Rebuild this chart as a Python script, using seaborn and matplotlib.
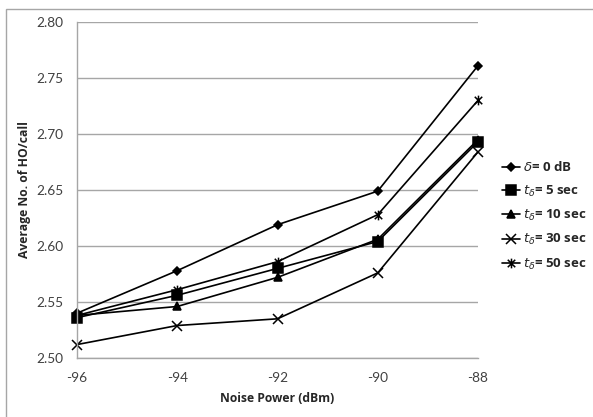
import numpy as np
import pandas as pd
import seaborn as sns
import matplotlib.pyplot as plt
from matplotlib.patches import Rectangle
from matplotlib.path import Path

noise_power = [-96, -94, -92, -90, -88]
delta_0db = [2.540, 2.578, 2.619, 2.649, 2.761]
t_5sec = [2.536, 2.556, 2.580, 2.604, 2.693]
t_10sec = [2.538, 2.546, 2.572, 2.606, 2.695]
t_30sec = [2.512, 2.529, 2.535, 2.576, 2.684]
t_50sec = [2.538, 2.561, 2.586, 2.628, 2.730]

labels = [r'$\delta$= 0 dB', r'$t_\delta$= 5 sec', r'$t_\delta$= 10 sec',
          r'$t_\delta$= 30 sec', r'$t_\delta$= 50 sec']

# excel style star: an x with a vertical bar through it
star = Path([(-1, -1), (1, 1), (-1, 1), (1, -1), (0, -1.3), (0, 1.3)],
            [Path.MOVETO, Path.LINETO, Path.MOVETO, Path.LINETO, Path.MOVETO, Path.LINETO])
markers = ['D', 's', '^', 'x', star]
sizes = [4.5, 6.5, 6, 7, 7]

sns.set_style('white')
plt.rcParams['font.family'] = ['Lato', 'DejaVu Sans']
plt.rcParams['mathtext.fontset'] = 'dejavusans'
bold_font = {'family': ['Open Sans', 'DejaVu Sans'], 'weight': 'bold'}

fig = plt.figure(figsize=(5.93, 4.17), dpi=100)
ax = fig.add_axes([77 / 593, 1 - 358 / 417, 401 / 593, 336 / 417])

series = [delta_0db, t_5sec, t_10sec, t_30sec, t_50sec]
for vals, lab, m, s in zip(series, labels, markers, sizes):
    sns.lineplot(x=noise_power, y=vals, ax=ax, color='black', marker=m,
                 markersize=s, markeredgecolor='black', markerfacecolor='black',
                 markeredgewidth=1.1, linewidth=1.2, label=lab)

ax.set_xlim(-96, -88)
ax.set_ylim(2.50, 2.80)
ax.set_xticks(noise_power)
ax.set_xticklabels([str(v) for v in noise_power])
ax.set_yticks(np.arange(2.50, 2.801, 0.05))
ax.set_yticklabels(['%.2f' % v for v in np.arange(2.50, 2.801, 0.05)])
ax.yaxis.grid(True, color='#a6a6a6', linewidth=1)
ax.xaxis.grid(False)
for side in ['top', 'right']:
    ax.spines[side].set_visible(False)
for side in ['left', 'bottom']:
    ax.spines[side].set_color('#a6a6a6')
    ax.spines[side].set_linewidth(1)
ax.tick_params(axis='both', length=0, labelsize=9.8, colors='#404040')
ax.tick_params(axis='y', pad=9.5)
ax.tick_params(axis='x', pad=10)
ax.set_axisbelow(True)
for line in ax.get_lines():
    line.set_clip_on(False)

ax.set_xlabel('Noise Power (dBm)', fontsize=8.7, labelpad=6, **bold_font)
ax.set_ylabel('Average No. of HO/call', fontsize=8.7, labelpad=4, **bold_font)

ax.get_legend().remove()
handles, _ = ax.get_legend_handles_labels()
fig.legend(handles, labels, loc='center left', bbox_to_anchor=(502 / 593, 1 - 216 / 417),
           frameon=False, borderpad=0, borderaxespad=0, handlelength=1.4,
           handletextpad=0.2, labelspacing=0.7,
           prop={'family': ['Open Sans', 'DejaVu Sans'], 'weight': 'bold', 'size': 9.5})

fig.patches.append(Rectangle((6 / 593, -0.1), 1.2, 1 - 9 / 417 + 0.1,
                             transform=fig.transFigure, fill=False,
                             edgecolor='#a6a6a6', linewidth=1))

fig.savefig('out.png', dpi=100)
